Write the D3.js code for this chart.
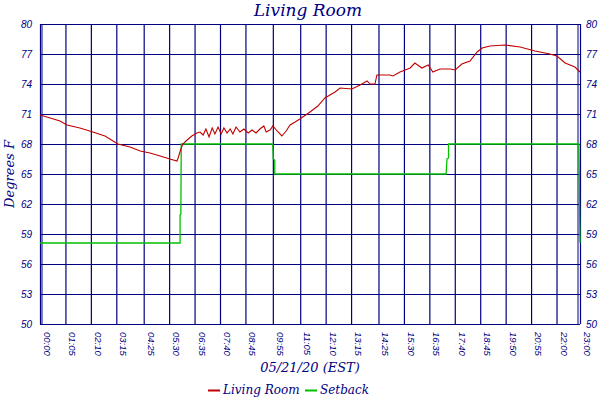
<!DOCTYPE html><html><head><meta charset="utf-8">
<script src="https://cdn.jsdelivr.net/npm/d3@7"></script>
<style>body{margin:0;background:#fff}</style></head><body>
<svg id="c" width="600" height="400"></svg>
<script>
const tickLabels=["00:00","01:05","02:10","03:15","04:25","05:30","06:35","07:40","08:45","09:55","11:05","12:10","13:15","14:25","15:30","16:35","17:40","18:45","19:50","20:55","22:00","23:00"];
const yTicks=[50,53,56,59,62,65,68,71,74,77,80];
// Living Room: [minutes since midnight, °F]
const roomMin=[0,26,51,69,102,135,166,199,230,256,281,307,332,350,353,360,365,376,388,401,409,417,424,432,440,447,455,463,470,478,486,493,501,511,521,532,542,552,562,572,578,588,595,606,618,629,639,652,664,690,710,728,754,767,797,818,836,843,856,861,894,902,920,946,958,976,992,1004,1022,1048,1061,1078,1099,1117,1130,1150,1188,1227,1265,1303,1321,1342,1367,1380];
const roomVal=[70.9,70.6,70.3,69.9,69.6,69.2,68.8,68.0,67.7,67.3,67.1,66.8,66.5,66.3,66.6,67.5,68.0,68.4,68.8,69.1,69.2,68.9,69.5,68.7,69.6,69.0,69.7,69.0,69.6,69.1,69.5,69.0,69.7,69.2,69.5,69.1,69.4,69.1,69.5,69.8,69.2,69.4,69.8,69.3,68.8,69.3,69.9,70.2,70.5,71.2,71.8,72.6,73.2,73.6,73.5,73.9,74.3,74.0,74.0,74.9,74.9,74.8,75.2,75.6,76.1,75.6,75.9,75.2,75.5,75.5,75.4,76.0,76.3,77.2,77.6,77.8,77.9,77.7,77.3,77.0,76.8,76.1,75.7,75.2];
// Setback: step series
const setMin=[0,358,358,360,361,364,595,596,600,600,1038,1040,1044,1044,1377,1378,1379,1380];
const setVal=[58.1,58.1,60.9,61.0,68,68,68,66.5,66.4,65,65,66.5,66.6,68,68,65,61,58.1];

const navy="#000080";
const svg=d3.select("#c");
const m={l:40,r:580,t:24,b:324};
const x=d3.scaleLinear().domain([0,1380]).range([m.l,m.r]);
const y=d3.scaleLinear().domain([50,80]).range([m.b,m.t]);
const tickMin=tickLabels.map(s=>{const[h,mm]=s.split(":").map(Number);return h*60+mm;});

const g=svg.append("g");
g.selectAll(".gx").data(tickMin).join("line").attr("x1",d=>x(d)+.5).attr("x2",d=>x(d)+.5).attr("y1",m.t).attr("y2",m.b).attr("stroke",navy).attr("stroke-width",1.2);
g.selectAll(".gy").data(yTicks).join("line").attr("x1",m.l).attr("x2",m.r).attr("y1",d=>y(d)+.5).attr("y2",d=>y(d)+.5).attr("stroke",navy).attr("stroke-width",1.2);
g.append("line").attr("x1",m.l+2).attr("x2",m.l+2).attr("y1",m.t).attr("y2",m.b).attr("stroke",navy);
g.append("line").attr("x1",m.r-2).attr("x2",m.r-2).attr("y1",m.t).attr("y2",m.b).attr("stroke",navy);

const tf="Liberation Sans, Arial, sans-serif";
g.selectAll(".yl").data(yTicks).join("text").attr("x",m.l-8).attr("y",d=>y(d)+4).attr("text-anchor","end")
 .attr("font-family",tf).attr("font-style","italic").attr("font-size",10).attr("fill",navy).text(d=>d);
g.selectAll(".yr").data(yTicks).join("text").attr("x",m.r+6).attr("y",d=>y(d)+4).attr("text-anchor","start")
 .attr("font-family",tf).attr("font-style","italic").attr("font-size",10).attr("fill",navy).text(d=>d);
g.selectAll(".xl").data(tickMin).join("text").attr("transform",(d)=>`translate(${x(d)+4},${m.b+8}) rotate(90)`)
 .attr("text-anchor","start").attr("font-family",tf).attr("font-style","italic").attr("font-size",9.5).attr("fill",navy)
 .text((d,i)=>tickLabels[i]);

const line=d3.line().x(d=>x(d[0])).y(d=>y(d[1]));
svg.append("path").datum(setMin.map((t,i)=>[t,setVal[i]])).attr("d",line).attr("fill","none").attr("stroke","#00c000").attr("stroke-width",1.3);
svg.append("path").datum(roomMin.map((t,i)=>[t,roomVal[i]])).attr("d",line).attr("fill","none").attr("stroke","#c00000").attr("stroke-width",1.1);

const sf="DejaVu Serif, serif";
svg.append("text").attr("x",308).attr("y",16).attr("text-anchor","middle").attr("font-family",sf).attr("font-style","italic").attr("font-size",17).attr("fill",navy).text("Living Room");
svg.append("text").attr("x",310).attr("y",372).attr("text-anchor","middle").attr("font-family",sf).attr("font-style","italic").attr("font-size",13).attr("fill",navy).text("05/21/20 (EST)");
svg.append("text").attr("transform","translate(14,174) rotate(-90)").attr("text-anchor","middle").attr("font-family",sf).attr("font-style","italic").attr("font-size",13).attr("fill",navy).text("Degrees F");

const leg=[["Living Room","#c00000",208],["Setback","#00c000",305]];
leg.forEach(([t,c,lx])=>{
 svg.append("line").attr("x1",lx).attr("x2",lx+12).attr("y1",390.5).attr("y2",390.5).attr("stroke",c).attr("stroke-width",2);
 svg.append("text").attr("x",lx+15).attr("y",394).attr("font-family",sf).attr("font-style","italic").attr("font-size",12).attr("fill",navy).text(t);
});
</script></body></html>
